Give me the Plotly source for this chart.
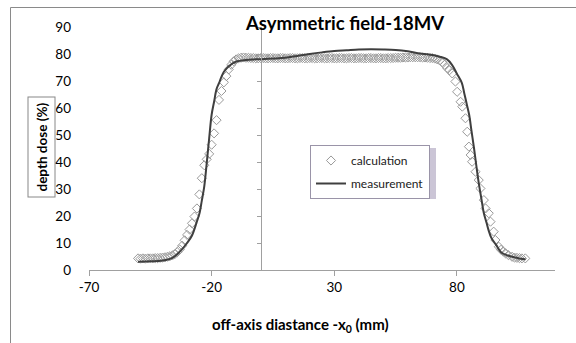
import plotly.graph_objects as go

# ---------------- data ----------------
meas_x = [-50, -45, -40, -36, -33, -30, -28, -26, -25, -24, -23, -22, -21, -20,
          -19, -18, -17, -16, -15, -13, -10, -6, -3, 0, 5, 10, 15, 20, 25, 30,
          35, 40, 45, 50, 55, 60, 65, 68, 70, 73, 76, 78, 80, 82, 83, 84, 85,
          86, 87, 88, 89, 90, 91, 92, 93, 94, 96, 98, 100, 103, 106, 108]
meas_y = [3.1, 3.2, 3.5, 4.5, 6.8, 10.0, 12.8, 18.0, 20.8, 25.7, 31.0, 39.6,
          48.8, 57.5, 62.3, 67.0, 69.2, 71.5, 73.4, 75.5, 77.2, 77.8, 78.0,
          78.1, 78.3, 78.6, 79.3, 80.0, 80.6, 81.1, 81.4, 81.7, 81.8, 81.7,
          81.5, 81.0, 80.2, 79.9, 79.6, 79.0, 78.0, 76.0, 72.7, 69.3, 65.5,
          61.5, 57.5, 51.2, 45.0, 38.1, 31.7, 26.3, 21.0, 17.8, 14.5, 12.0,
          9.3, 6.6, 5.6, 4.8, 4.2, 4.0]

calc_x = ([-50, -49, -48, -47, -46, -45, -44, -43, -42, -41, -40, -39, -38,
           -37, -36, -35, -34, -33, -32, -31, -30, -29, -28, -27, -26, -25,
           -24, -23, -22, -21, -20, -19, -18, -17, -16, -15, -14, -13, -12,
           -11, -10]
          + list(range(-9, 78))
          + [78.1, 79.4, 80.1, 81.5, 82.2, 83.5, 84.2, 84.9, 85.6, 86.2, 87.6,
             88.9, 89.6, 91.0, 91.7, 93.0, 93.7, 95.0, 95.7, 97.1, 98.0, 99.0,
             99.8, 101.0, 102.5, 103.5, 104.5, 105.5, 106.5, 107.9])
calc_y = ([4.3, 4.2, 4.3, 4.2, 4.3, 4.3, 4.3, 4.4, 4.4, 4.5, 4.6, 4.7, 4.9,
           5.1, 5.4, 5.9, 6.6, 7.6, 9.0, 11.0, 13.0, 15.0, 17.3, 19.8, 22.8,
           28.0, 34.0, 38.8, 41.0, 43.0, 46.4, 50.6, 55.5, 63.0, 66.3, 69.5,
           71.8, 74.3, 76.0, 77.3, 78.0]
          + [78.4, 78.6, 78.7, 78.6, 78.6, 78.5, 78.5, 78.4, 78.4, 78.5,
             78.5, 78.4, 78.4, 78.5, 78.5, 78.4, 78.4, 78.5, 78.5, 78.4,
             78.4, 78.5, 78.5, 78.4, 78.4, 78.5, 78.5, 78.4, 78.4, 78.5,
             78.5, 78.4, 78.4, 78.5, 78.5, 78.4, 78.4, 78.5, 78.5, 78.4,
             78.4, 78.5, 78.5, 78.4, 78.4, 78.5, 78.5, 78.4, 78.4, 78.5,
             78.5, 78.4, 78.4, 78.5, 78.5, 78.4, 78.4, 78.5, 78.5, 78.4,
             78.4, 78.5, 78.5, 78.5, 78.6, 78.6, 78.6, 78.7, 78.7, 78.7,
             78.8, 78.8, 78.8, 78.8, 78.8, 78.7, 78.7, 78.6, 78.5, 78.5,
             78.3, 78.0, 77.6, 77.0, 76.0, 74.8, 74.0]
          + [72.8, 69.8, 66.0, 62.3, 60.5, 56.2, 51.2, 45.7, 42.6, 40.1, 36.4,
             33.3, 30.2, 25.9, 22.8, 21.0, 17.9, 14.2, 11.1, 8.6, 7.5, 6.8,
             6.2, 5.5, 4.9, 4.6, 4.5, 4.4, 4.3, 4.3])

x_ticks = [-70, -20, 30, 80]
y_ticks = [0, 10, 20, 30, 40, 50, 60, 70, 80, 90]

title_text = "<b>Asymmetric field-18MV</b>"
x_title = "<b>off-axis diastance -x<sub>0</sub> (mm)</b>"
y_title = "<b>depth dose (%)</b>"

# ---------------- layout helpers ----------------
W, H = 576, 343
ML, MR, MT, MB = 89, 21, 27, 73
PW, PH = W - ML - MR, H - MT - MB


def px(xp):
    return (xp - ML) / PW


def py(yp):
    return (H - MB - yp) / PH


FONT = "Lato, 'Open Sans', sans-serif"
AX = "#a0a0a0"

fig = go.Figure()
fig.add_trace(go.Scatter(
    x=calc_x, y=calc_y, mode="markers", name="calculation",
    marker=dict(symbol="diamond-open", size=7, color="#999999",
                line=dict(width=1, color="#999999")),
    legendgroup="a"))
fig.add_trace(go.Scatter(
    x=meas_x, y=meas_y, mode="lines", name="measurement",
    line=dict(color="#3f3f3f", width=2), line_shape="spline",
    legendgroup="b"))
fig.add_trace(go.Scatter(x=[], y=[], yaxis="y2", showlegend=False,
                         hoverinfo="skip"))

fig.update_layout(
    width=W, height=H,
    margin=dict(l=ML, r=MR, t=MT, b=MB),
    paper_bgcolor="white", plot_bgcolor="white",
    font=dict(family=FONT, color="#000000"),
    showlegend=True,
    xaxis=dict(range=[-70, 120], tickvals=x_ticks, ticktext=[str(v) for v in x_ticks],
               showline=True, linecolor=AX, linewidth=1,
               ticks="outside", ticklen=5, tickcolor=AX,
               showgrid=False, zeroline=False,
               tickfont=dict(size=13.5, family=FONT, color="#000")),
    yaxis=dict(range=[0, 90], tickvals=y_ticks, ticktext=[str(v) for v in y_ticks],
               showline=False, showgrid=False, zeroline=False, ticks="",
               ticklabelstandoff=17,
               tickfont=dict(size=13.5, family=FONT, color="#000")),
    yaxis2=dict(range=[0, 90], overlaying="y", anchor="free",
                position=(0 - (-70)) / 190, side="left",
                tickvals=y_ticks, showticklabels=False,
                ticks="outside", ticklen=4, tickcolor=AX,
                showline=True, linecolor=AX, linewidth=1,
                showgrid=False, zeroline=False),
    legend=dict(x=px(310), y=py(145), xanchor="left", yanchor="top",
                bgcolor="white", bordercolor="#9a94a8", borderwidth=1,
                font=dict(size=12, family=FONT, color="#222"),
                tracegroupgap=4, traceorder="grouped"),
)

# title and axis titles
fig.add_annotation(text=title_text, xref="paper", yref="paper",
                   x=px(344), y=py(23), xanchor="center", yanchor="middle",
                   showarrow=False, font=dict(size=18.5, family=FONT, color="#000"))
fig.add_annotation(text=x_title, xref="paper", yref="paper",
                   x=px(300), y=py(325), xanchor="center", yanchor="middle",
                   showarrow=False, font=dict(size=15, family=FONT, color="#000"))
fig.add_annotation(text=y_title, xref="paper", yref="paper",
                   x=px(41), y=py(147.5), xanchor="center", yanchor="middle",
                   textangle=-90, showarrow=False,
                   bordercolor="#888", borderwidth=1, borderpad=5,
                   bgcolor="white",
                   font=dict(size=13.5, family=FONT, color="#000"))

# chart-area frame (left and top edges visible)
fig.add_shape(type="line", xref="paper", yref="paper",
              x0=px(10.5), x1=px(10.5), y0=py(H + 2), y1=py(7.5),
              line=dict(color="#8a8a8a", width=1))
fig.add_shape(type="line", xref="paper", yref="paper",
              x0=px(10.5), x1=px(W + 2), y0=py(7.5), y1=py(7.5),
              line=dict(color="#8a8a8a", width=1))
# legend shadow
fig.add_shape(type="rect", xref="paper", yref="paper",
              x0=px(313), x1=px(436), y0=py(148), y1=py(199),
              line=dict(width=0), fillcolor="rgba(160,150,180,0.55)",
              layer="above")

fig.write_html("out.html")
